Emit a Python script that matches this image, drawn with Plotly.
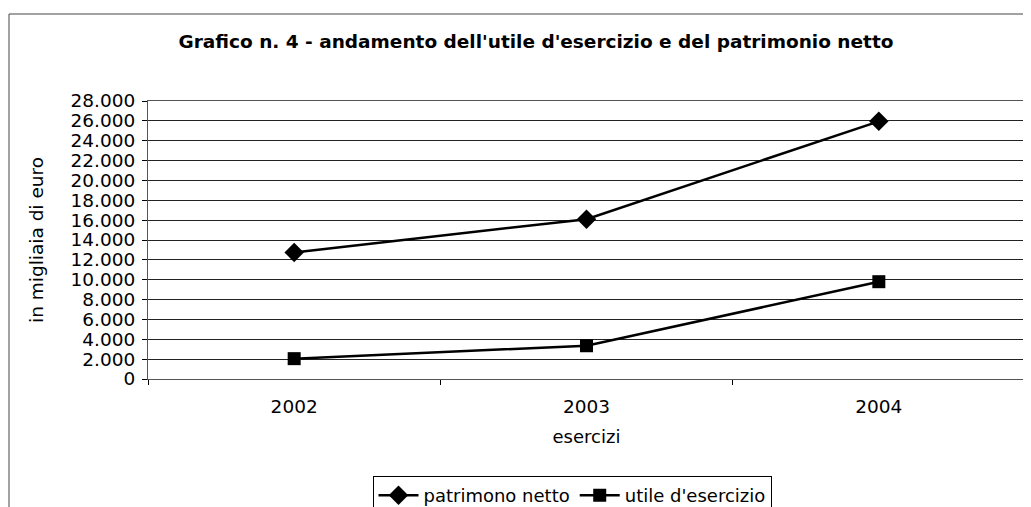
import plotly.graph_objects as go

years = ["2002", "2003", "2004"]
patrimonio = [12750, 16100, 25950]
utile = [2050, 3350, 9800]
y_ticks = [0, 2000, 4000, 6000, 8000, 10000, 12000, 14000, 16000, 18000, 20000, 22000, 24000, 26000, 28000]
y_ticktext = ["0", "2.000", "4.000", "6.000", "8.000", "10.000", "12.000", "14.000", "16.000",
              "18.000", "20.000", "22.000", "24.000", "26.000", "28.000"]

FONT = "DejaVu Sans, Verdana, sans-serif"

fig = go.Figure()
fig.add_trace(go.Scatter(
    x=years, y=patrimonio, name="patrimono netto", mode="lines+markers",
    line=dict(color="black", width=2.5),
    marker=dict(symbol="diamond", size=15, color="black"),
))
fig.add_trace(go.Scatter(
    x=years, y=utile, name="utile d'esercizio", mode="lines+markers",
    line=dict(color="black", width=2.5),
    marker=dict(symbol="square", size=13, color="black"),
))

# page body has an 8px margin; work in figure coordinates = page - 8
OFF = 8
W, H = 1031 - OFF, 507 - OFF
L, R, T, B = 148 - OFF, 6, 101 - OFF, 507 - 379
pw, ph = W - L - R, H - T - B

def px(x):
    return (x - OFF - L) / pw

def py(y):
    return (H - B - (y - OFF)) / ph

fig.update_layout(
    width=W, height=H,
    margin=dict(l=L, r=R, t=T, b=B, autoexpand=False),
    paper_bgcolor="white", plot_bgcolor="white",
    font=dict(family=FONT, color="black"),
    title=dict(
        text="<b>Grafico n. 4 - andamento dell'utile d'esercizio e del patrimonio netto</b>",
        x=(536 - OFF) / W, xanchor="center", xref="container",
        y=1 - (42 - OFF) / H, yanchor="middle", yref="container",
        font=dict(family=FONT, size=18.5, color="black"),
    ),
    showlegend=True,
    legend=dict(
        orientation="h", x=px(572), xanchor="center", y=py(476), yanchor="top",
        bgcolor="white", bordercolor="black", borderwidth=1,
        font=dict(family=FONT, size=18, color="black"),
        itemwidth=40, tracegroupgap=0,
    ),
    xaxis=dict(
        type="category", tickson="boundaries", ticks="outside", ticklen=5,
        tickcolor="black", showgrid=False, showline=True, linecolor="#555", linewidth=1,
        mirror=True, zeroline=False, automargin=False, ticklabelstandoff=11,
        tickfont=dict(family=FONT, size=18.5, color="black"),
        title=dict(text="esercizi", standoff=14, font=dict(family=FONT, size=18, color="black")),
        range=[-0.5, 2.5],
    ),
    yaxis=dict(
        range=[0, 28000], tickvals=y_ticks, ticktext=y_ticktext,
        ticks="outside", ticklen=5, tickcolor="black",
        showgrid=True, gridcolor="#222", gridwidth=1,
        showline=True, linecolor="#555", linewidth=1, mirror=True, zeroline=False, automargin=False,
        ticklabelstandoff=3,
        tickfont=dict(family=FONT, size=18.5, color="black"),
        title=dict(text="in migliaia di euro", standoff=22, font=dict(family=FONT, size=18.5, color="black")),
    ),
    shapes=[
        dict(type="line", xref="paper", yref="paper", x0=px(9), x1=px(1040), y0=py(14), y1=py(14),
             line=dict(color="#444", width=1)),
        dict(type="line", xref="paper", yref="paper", x0=px(9), x1=px(9), y0=py(14), y1=py(520),
             line=dict(color="#444", width=1)),
    ],
)

fig.write_html("out.html")
